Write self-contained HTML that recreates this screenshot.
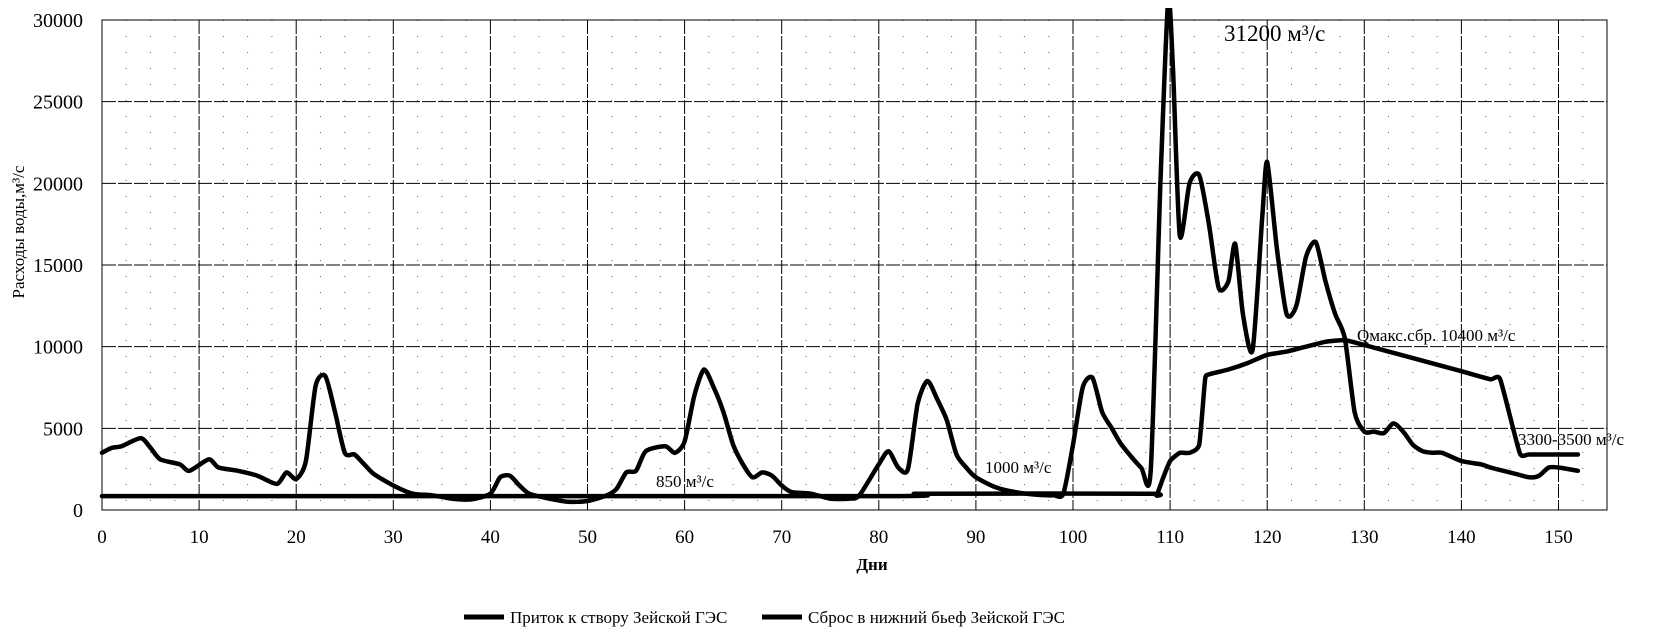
<!DOCTYPE html>
<html><head><meta charset="utf-8"><style>
html,body{margin:0;padding:0;background:#fff;}
svg{display:block;font-family:"Liberation Serif",serif;}
</style></head><body>
<svg id="chart" width="1654" height="637" viewBox="0 0 1654 637">
<defs><clipPath id="plotclip"><rect x="0" y="8" width="1654" height="629"/></clipPath></defs>
<g id="grid"></g>
<g id="axes"></g>
<g id="series" clip-path="url(#plotclip)"></g>
<text x="24" y="232" font-size="17" text-anchor="middle" transform="rotate(-90 24 232)">Расходы  воды,м³/с</text>
<text x="872" y="570" font-size="17" font-weight="bold" text-anchor="middle">Дни</text>
<text x="1224" y="41" font-size="23">31200 м³/с</text>
<text x="1357" y="341" font-size="17">Qмакс.сбр.  10400  м³/с</text>
<text x="1518" y="445" font-size="17">3300-3500  м³/с</text>
<text x="656" y="487" font-size="17">850  м³/с</text>
<text x="985" y="473" font-size="17">1000  м³/с</text>
<g>
<line x1="464" y1="617" x2="504" y2="617" stroke="#000" stroke-width="5"/>
<text x="510" y="623" font-size="17">Приток к створу Зейской ГЭС</text>
<line x1="762" y1="617" x2="802" y2="617" stroke="#000" stroke-width="5"/>
<text x="808" y="623" font-size="17">Сброс в нижний бьеф Зейской ГЭС</text>
</g>
</svg>
<script>
const xTicks=[0,10,20,30,40,50,60,70,80,90,100,110,120,130,140,150];
const yTicks=[0,5000,10000,15000,20000,25000,30000];
const inflowDays=[0,1,2,4,5,6,8,9,11,12,14,16,18,19,20,21,22,23,24,25,26,27,28,30,32,34,36,38,40,41,42,43,44,46,48,50,52,53,54,55,56,58,59,60,61,62,63,64,65,66,67,68,69,70,71,73,75,77,78,80,81,82,83,84,85,86,87,88,89,90,92,94,96,98,99,100,101,102,103,104,105,107,108,109,109.8,110.3,111,112,113,114,115,116,116.7,117.5,118.5,119.5,120,121,122,123,124,125,126,127,128,129,130,131,132,133,134,135,136,137,138,140,142,143,145,147,148,149,150,152];
const inflowValues=[3500,3800,3900,4400,3800,3100,2800,2400,3100,2600,2400,2100,1600,2300,1900,3000,7600,8200,6000,3500,3400,2800,2200,1500,1000,900,700,650,1000,2000,2100,1500,1000,700,500,550,900,1300,2300,2400,3600,3900,3500,4200,7000,8600,7500,6000,4000,2800,2000,2300,2100,1500,1100,1000,700,700,900,2800,3600,2600,2500,6500,7900,6800,5500,3400,2600,2000,1400,1100,950,900,1000,4000,7500,8100,6000,5000,4000,2600,2400,20000,31200,27000,16800,20000,20500,17500,13600,14000,16300,12000,9800,18000,21300,16000,12000,12500,15500,16400,14000,12000,10500,6000,4800,4800,4700,5300,4800,4000,3600,3500,3500,3000,2800,2600,2300,2000,2100,2600,2600,2400];
const outflowDays=[0,82,84,108,108.6,109.3,110,111,112,113,113.6,114,116,118,120,122,124,126,128,130,135,140,143,144,146,147,152];
const outflowValues=[850,850,1000,1000,900,2000,3000,3500,3500,4000,8000,8300,8600,9000,9500,9700,10000,10300,10400,10100,9300,8500,8000,8000,3500,3400,3400];

const NS='http://www.w3.org/2000/svg';
const X0=102,PX10=97.1,Y0=510,PY5000=81.67,RIGHT=1607,TOP=20;
function xs(d){return X0+d*PX10/10;}
function ys(v){return Y0-v*PY5000/5000;}
function mk(tag,attrs,parent){const e=document.createElementNS(NS,tag);for(const k in attrs)e.setAttribute(k,attrs[k]);parent.appendChild(e);return e;}
const grid=document.getElementById('grid'),axes=document.getElementById('axes'),series=document.getElementById('series');
for(let d=2.5;d<155;d+=2.5){ if(d%10===0) continue;
  const l=mk('line',{x1:xs(d),x2:xs(d),y1:TOP,y2:Y0,stroke:'#000','stroke-width':1,'stroke-dasharray':'1,15',opacity:0.6},grid);
  
  
}
xTicks.forEach(t=>{
  const l=mk('line',{x1:xs(t),x2:xs(t),y1:TOP,y2:Y0,stroke:'#000','stroke-width':1,'stroke-dasharray':'14,2'},grid);
  
  
  const tx=mk('text',{x:xs(t),y:Y0+33,'font-size':19,'text-anchor':'middle'},axes);
  tx.textContent=t;
  
  
});
yTicks.forEach(t=>{
  const l=mk('line',{x1:X0,x2:RIGHT,y1:ys(t),y2:ys(t),stroke:'#000','stroke-width':1,'stroke-dasharray':'14,2'},grid);
  
  
  const tx=mk('text',{x:83,y:ys(t)+7,'font-size':20,'text-anchor':'end'},axes);
  tx.textContent=t;
  
  
});
const frame=mk('rect',{x:X0,y:TOP,width:RIGHT-X0,height:Y0-TOP,fill:'none',stroke:'#000','stroke-width':1},axes);


function smoothPath(ds,vs,k){
  const p=ds.map((d,i)=>[xs(d),ys(vs[i])]);
  let s='M'+p[0][0].toFixed(1)+','+p[0][1].toFixed(1);
  for(let i=0;i<p.length-1;i++){
    const a=p[Math.max(0,i-1)],b=p[i],c=p[i+1],e=p[Math.min(p.length-1,i+2)];
    const c1=[b[0]+(c[0]-a[0])*k,b[1]+(c[1]-a[1])*k];
    const c2=[c[0]-(e[0]-b[0])*k,c[1]-(e[1]-b[1])*k];
    s+=' C'+c1[0].toFixed(1)+','+c1[1].toFixed(1)+' '+c2[0].toFixed(1)+','+c2[1].toFixed(1)+' '+c[0].toFixed(1)+','+c[1].toFixed(1);
  }
  return s;
}
const inflow=mk('path',{d:smoothPath(inflowDays,inflowValues,0.12),fill:'none',stroke:'#000','stroke-width':4.5,'stroke-linejoin':'round','stroke-linecap':'round'},series);


const outflow=mk('path',{d:smoothPath(outflowDays,outflowValues,0.08),fill:'none',stroke:'#000','stroke-width':4.5,'stroke-linejoin':'round','stroke-linecap':'round'},series);


</script>
</body></html>
